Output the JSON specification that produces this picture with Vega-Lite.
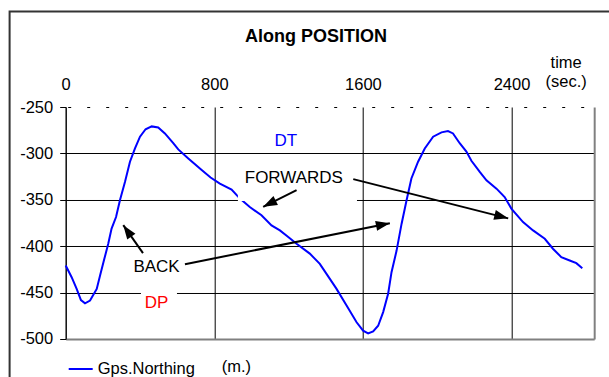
{
  "$schema": "https://vega.github.io/schema/vega-lite/v6.json",
  "width": 528.5,
  "height": 232,
  "autosize": "none",
  "padding": {"left": 65.7, "top": 107, "right": 15, "bottom": 38},
  "background": "white",
  "config": {
    "view": {"stroke": null},
    "font": "Liberation Sans",
    "text": {"font": "Liberation Sans"}
  },
  "title": {
    "text": "Along POSITION",
    "font": "Liberation Sans",
    "fontSize": 18,
    "fontWeight": "bold",
    "color": "black",
    "anchor": "middle",
    "dx": -14,
    "offset": -35
  },
  "datasets": {
    "curve": [
      {"t": 0, "n": -420.8},
      {"t": 32, "n": -433.4},
      {"t": 59, "n": -446},
      {"t": 82, "n": -458},
      {"t": 104, "n": -461.5},
      {"t": 131, "n": -458.6},
      {"t": 167, "n": -446},
      {"t": 185, "n": -431.6},
      {"t": 208, "n": -413.6},
      {"t": 229, "n": -397.4},
      {"t": 247, "n": -381},
      {"t": 271, "n": -368.6},
      {"t": 292, "n": -350.5},
      {"t": 319, "n": -330.7},
      {"t": 346, "n": -309},
      {"t": 373, "n": -294.7},
      {"t": 400, "n": -282},
      {"t": 430, "n": -274},
      {"t": 463, "n": -270.9},
      {"t": 498, "n": -272},
      {"t": 534, "n": -278.5},
      {"t": 579, "n": -289},
      {"t": 606, "n": -295.7},
      {"t": 660, "n": -305.5},
      {"t": 732, "n": -318},
      {"t": 780, "n": -326},
      {"t": 830, "n": -332.5},
      {"t": 893, "n": -339},
      {"t": 938, "n": -348.7},
      {"t": 991, "n": -357.8},
      {"t": 1054, "n": -366.7},
      {"t": 1108, "n": -377.6},
      {"t": 1153, "n": -383},
      {"t": 1198, "n": -390},
      {"t": 1243, "n": -397.4},
      {"t": 1314, "n": -408},
      {"t": 1368, "n": -419},
      {"t": 1404, "n": -429.8},
      {"t": 1458, "n": -446},
      {"t": 1512, "n": -464},
      {"t": 1566, "n": -482},
      {"t": 1601, "n": -491},
      {"t": 1628, "n": -494},
      {"t": 1655, "n": -491.8},
      {"t": 1682, "n": -485.7},
      {"t": 1709, "n": -471},
      {"t": 1736, "n": -451},
      {"t": 1754, "n": -428},
      {"t": 1781, "n": -405},
      {"t": 1808, "n": -376},
      {"t": 1835, "n": -350.5},
      {"t": 1861, "n": -327},
      {"t": 1897, "n": -309},
      {"t": 1933, "n": -294.7},
      {"t": 1978, "n": -282},
      {"t": 2023, "n": -277.3},
      {"t": 2058, "n": -276},
      {"t": 2085, "n": -278.5},
      {"t": 2121, "n": -289},
      {"t": 2157, "n": -298},
      {"t": 2184, "n": -308},
      {"t": 2229, "n": -320},
      {"t": 2265, "n": -329},
      {"t": 2319, "n": -338},
      {"t": 2363, "n": -347},
      {"t": 2399, "n": -359.5},
      {"t": 2462, "n": -374},
      {"t": 2516, "n": -383},
      {"t": 2579, "n": -392},
      {"t": 2623, "n": -402.7},
      {"t": 2668, "n": -411.8},
      {"t": 2713, "n": -415.4},
      {"t": 2749, "n": -418.3},
      {"t": 2781, "n": -423.7}
    ],
    "frame": [
      {"x": -302, "x2": 3100, "y": -147.2, "y2": -600}
    ],
    "boxes": [
      {"label": "FORWARDS", "x": 927, "x2": 1568, "y": -310.4, "y2": -351.4},
      {"label": "DP", "x": 405, "x2": 599, "y": -444.2, "y2": -477.7}
    ],
    "arrows": [
      {"id": "b1", "x": 416, "y": -407.5, "x2": 310, "y2": -377.3},
      {"id": "b2", "x": 642, "y": -419.4, "x2": 1745, "y2": -375.2},
      {"id": "f1", "x": 1243, "y": -339.6, "x2": 1063, "y2": -357.6},
      {"id": "f2", "x": 1548, "y": -327.7, "x2": 2382, "y2": -370}
    ],
    "labels": [
      {"text": "DT", "x": 1185, "y": -286.4, "kind": "dt"},
      {"text": "FORWARDS", "x": 1228, "y": -326, "kind": "note"},
      {"text": "BACK", "x": 489, "y": -422.6, "kind": "note"},
      {"text": "DP", "x": 489, "y": -461.5, "kind": "dp"}
    ]
  },
  "resolve": {"axis": {"x": "independent", "y": "independent"}},
  "layer": [
    {
      "data": {"name": "frame"},
      "mark": {"type": "rect", "fill": null, "fillOpacity": 0, "stroke": "#333333", "strokeWidth": 2, "clip": false},
      "encoding": {
        "x": {"field": "x", "type": "quantitative", "scale": {"domain": [0, 2845], "nice": false, "zero": false}, "axis": null},
        "x2": {"field": "x2"},
        "y": {"field": "y", "type": "quantitative", "scale": {"domain": [-500, -250], "nice": false, "zero": false}, "axis": null},
        "y2": {"field": "y2"}
      }
    },
    {
      "data": {"name": "curve"},
      "mark": {"type": "line", "strokeWidth": 2, "interpolate": "linear"},
      "encoding": {
        "x": {
          "field": "t", "type": "quantitative",
          "scale": {"domain": [0, 2845], "nice": false, "zero": false},
          "axis": {
            "orient": "top",
            "values": [0, 800, 1600, 2400],
            "labelExpr": "'' + datum.value",
            "grid": true, "gridColor": "black", "gridWidth": 1, "gridOpacity": 1,
            "ticks": false, "tickSize": 0,
            "labelFlush": false, "labelBound": false, "labelOverlap": false,
            "labelFont": "Liberation Sans", "labelFontSize": 16.5, "labelColor": "black",
            "labelBaseline": "alphabetic", "labelPadding": 18,
            "domainColor": "black", "domainWidth": 1, "domainDash": [3, 16], "domainDashOffset": -2,
            "title": ["time", "(sec.)"],
            "titleFont": "Liberation Sans", "titleFontSize": 16.5, "titleFontWeight": "normal", "titleColor": "black",
            "titleX": 500, "titleY": -40, "titleAlign": "center", "titleBaseline": "alphabetic", "titleLineHeight": 20, "titleAngle": 0
          }
        },
        "y": {
          "field": "n", "type": "quantitative",
          "scale": {"domain": [-500, -250], "nice": false, "zero": false},
          "axis": {
            "orient": "left",
            "values": [-250, -300, -350, -400, -450, -500],
            "labelExpr": "'' + datum.value",
            "grid": true, "gridColor": "black", "gridWidth": 1,
            "gridOpacity": {"condition": {"test": "datum.value === -250 || datum.value === -500", "value": 0}, "value": 1},
            "ticks": true, "tickSize": 6, "tickColor": "black", "tickWidth": 1,
            "domainColor": "black", "domainWidth": 1,
            "labelFont": "Liberation Sans", "labelFontSize": 16.5, "labelColor": "black", "labelPadding": 7,
            "labelFlush": false, "labelBound": false, "labelOverlap": false,
            "title": null
          }
        },
        "color": {
          "datum": "Gps.Northing", "type": "nominal",
          "scale": {"domain": ["Gps.Northing"], "range": ["#0000ff"]},
          "legend": {
            "orient": "none", "legendX": 2, "legendY": 249,
            "title": "(m.)", "titleOrient": "right", "titlePadding": 27,
            "titleFont": "Liberation Sans", "titleFontSize": 16.5, "titleFontWeight": "normal", "titleColor": "black",
            "symbolType": "stroke", "symbolSize": 576, "symbolStrokeWidth": 2,
            "labelFont": "Liberation Sans", "labelFontSize": 16.5, "labelColor": "black", "labelOffset": 4, "labelLimit": 300,
            "padding": 0
          }
        }
      }
    },
    {
      "data": {"name": "boxes"},
      "mark": {"type": "rect", "fill": "white", "stroke": null, "clip": false},
      "encoding": {
        "x": {
          "field": "x", "type": "quantitative",
          "scale": {"domain": [0, 2845], "nice": false, "zero": false},
          "axis": {"orient": "bottom", "labels": false, "ticks": false, "grid": false, "domainColor": "#808080", "domainWidth": 2, "title": null}
        },
        "x2": {"field": "x2"},
        "y": {
          "field": "y", "type": "quantitative",
          "scale": {"domain": [-500, -250], "nice": false, "zero": false},
          "axis": {"orient": "right", "labels": false, "ticks": false, "grid": false, "domainColor": "#808080", "domainWidth": 2, "title": null}
        },
        "y2": {"field": "y2"}
      }
    },
    {
      "data": {"name": "arrows"},
      "mark": {"type": "rule", "color": "black", "strokeWidth": 2, "clip": false},
      "encoding": {
        "x": {"field": "x", "type": "quantitative", "scale": {"domain": [0, 2845], "nice": false, "zero": false}, "axis": null},
        "x2": {"field": "x2"},
        "y": {"field": "y", "type": "quantitative", "scale": {"domain": [-500, -250], "nice": false, "zero": false}, "axis": null},
        "y2": {"field": "y2"}
      }
    },
    {
      "data": {"name": "arrows"},
      "mark": {"type": "point", "shape": "M0,0L0.5,1.4L-0.5,1.4Z", "filled": true, "color": "black", "opacity": 1, "size": 400, "strokeWidth": 0, "clip": false},
      "encoding": {
        "x": {"field": "x2", "type": "quantitative", "scale": {"domain": [0, 2845], "nice": false, "zero": false}, "axis": null},
        "y": {"field": "y2", "type": "quantitative", "scale": {"domain": [-500, -250], "nice": false, "zero": false}, "axis": null},
        "angle": {"field": "id", "type": "nominal", "scale": {"type": "ordinal", "domain": ["b1", "b2", "f1", "f2"], "range": [-35.1, 78.7, -116.6, 104.2]}, "legend": null}
      }
    },
    {
      "data": {"name": "labels"},
      "mark": {"type": "text", "font": "Liberation Sans", "fontSize": 17, "align": "center", "baseline": "middle", "clip": false},
      "encoding": {
        "x": {"field": "x", "type": "quantitative", "scale": {"domain": [0, 2845], "nice": false, "zero": false}, "axis": null},
        "y": {"field": "y", "type": "quantitative", "scale": {"domain": [-500, -250], "nice": false, "zero": false}, "axis": null},
        "text": {"field": "text"},
        "color": {
          "condition": [
            {"test": "datum.kind === 'dt'", "value": "#0000ff"},
            {"test": "datum.kind === 'dp'", "value": "#ff0000"}
          ],
          "value": "black"
        }
      }
    }
  ]
}
